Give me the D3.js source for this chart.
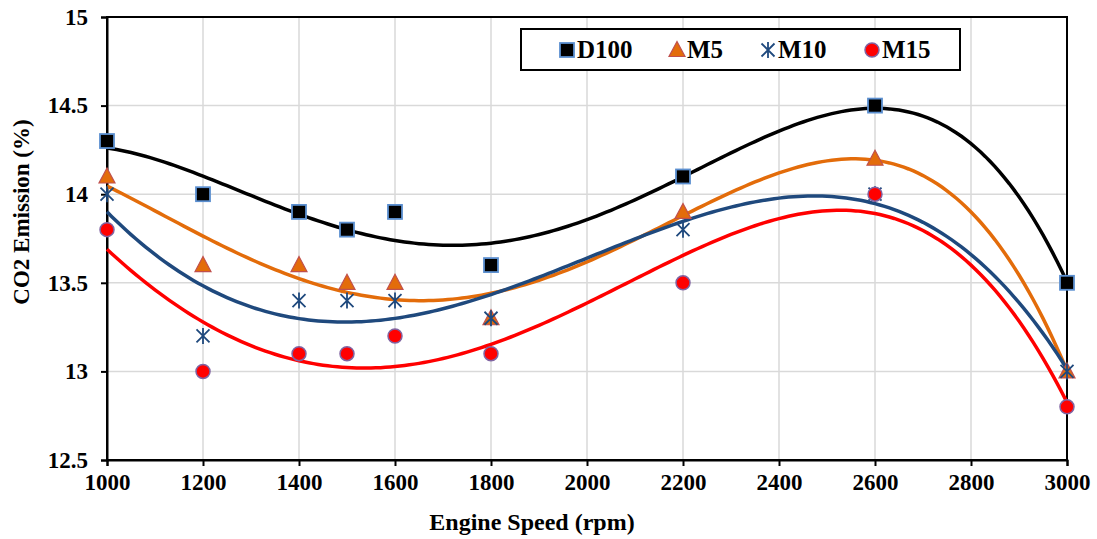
<!DOCTYPE html>
<meta charset="utf-8">
<style>
  body { margin: 0; background: #fff; }
  text { font-family: "Liberation Serif", "Times New Roman", serif; font-weight: bold; }
</style>
<svg width="1097" height="539"></svg>
<script src="https://d3js.org/d3.v7.min.js"></script>
<script>

var speeds = [1000, 1200, 1400, 1500, 1600, 1800, 2200, 2600, 3000];
var d100 = [14.3, 14.0, 13.9, 13.8, 13.9, 13.6, 14.1, 14.5, 13.5];
var m5   = [14.1, 13.6, 13.6, 13.5, 13.5, 13.3, 13.9, 14.2, 13.0];
var m10  = [14.0, 13.2, 13.4, 13.4, 13.4, 13.3, 13.8, 14.0, 13.0];
var m15  = [13.8, 13.0, 13.1, 13.1, 13.2, 13.1, 13.5, 14.0, 12.8];
var xTicks = [1000, 1200, 1400, 1600, 1800, 2000, 2200, 2400, 2600, 2800, 3000];
var yTicks = [12.5, 13, 13.5, 14, 14.5, 15];

var series = [
  {name: "D100", values: d100, line: "#000000", shape: "square"},
  {name: "M5",   values: m5,   line: "#e36c0a", shape: "triangle"},
  {name: "M10",  values: m10,  line: "#1f497d", shape: "star"},
  {name: "M15",  values: m15,  line: "#ff0000", shape: "circle"}
];

var svg = d3.select("svg"),
    margin = {top: 17, right: 30, bottom: 79, left: 107},
    width = 1097 - margin.left - margin.right,
    height = 539 - margin.top - margin.bottom;

var x = d3.scaleLinear().domain([1000, 3000]).range([0, width]);
var y = d3.scaleLinear().domain([12.5, 15]).range([height, 0]);

var g = svg.append("g").attr("transform", "translate(" + margin.left + "," + margin.top + ")");

// grid
g.selectAll(".vgrid").data(xTicks).enter().append("line")
  .attr("x1", d => x(d)).attr("x2", d => x(d))
  .attr("y1", 0).attr("y2", height)
  .attr("stroke", "#d9d9d9").attr("stroke-width", 1.5);
g.selectAll(".hgrid").data(yTicks).enter().append("line")
  .attr("x1", 0).attr("x2", width)
  .attr("y1", d => y(d)).attr("y2", d => y(d))
  .attr("stroke", "#d9d9d9").attr("stroke-width", 1.5);

// box
g.append("rect").attr("width", width).attr("height", height)
  .attr("fill", "none").attr("stroke", "#000").attr("stroke-width", 2);

// axes
var xAxis = g.append("g").attr("transform", "translate(0," + height + ")")
  .call(d3.axisBottom(x).tickValues(xTicks).tickFormat(d3.format("d")).tickSize(6).tickPadding(8));
var yAxis = g.append("g")
  .call(d3.axisLeft(y).tickValues(yTicks).tickFormat(d => d).tickSize(6).tickPadding(13));
[xAxis, yAxis].forEach(function(a) {
  a.select(".domain").attr("stroke", "#000").attr("stroke-width", 2);
  a.selectAll(".tick line").attr("stroke", "#000").attr("stroke-width", 2);
  a.selectAll("text").attr("font-size", 23).attr("fill", "#000")
    .style("font-family", "Liberation Serif").style("font-weight", "bold");
});

// polynomial least squares fit (order 4 trendline)
function polyfit(xs, ys, order) {
  var n = order + 1;
  var A = [], b = [];
  for (var i = 0; i < n; i++) {
    A.push(new Array(n).fill(0)); b.push(0);
  }
  xs.forEach(function(xv, k) {
    var t = (xv - 2000) / 1000;
    for (var i = 0; i < n; i++) {
      b[i] += ys[k] * Math.pow(t, i);
      for (var j = 0; j < n; j++) A[i][j] += Math.pow(t, i + j);
    }
  });
  for (var c = 0; c < n; c++) {
    var p = c;
    for (var r = c + 1; r < n; r++) if (Math.abs(A[r][c]) > Math.abs(A[p][c])) p = r;
    [A[c], A[p]] = [A[p], A[c]]; [b[c], b[p]] = [b[p], b[c]];
    for (var r2 = c + 1; r2 < n; r2++) {
      var f = A[r2][c] / A[c][c];
      for (var j2 = c; j2 < n; j2++) A[r2][j2] -= f * A[c][j2];
      b[r2] -= f * b[c];
    }
  }
  var coef = new Array(n).fill(0);
  for (var i2 = n - 1; i2 >= 0; i2--) {
    var s = b[i2];
    for (var j3 = i2 + 1; j3 < n; j3++) s -= A[i2][j3] * coef[j3];
    coef[i2] = s / A[i2][i2];
  }
  return function(xv) {
    var t = (xv - 2000) / 1000, v = 0;
    for (var i = 0; i < n; i++) v += coef[i] * Math.pow(t, i);
    return v;
  };
}

var line = d3.line().x(d => x(d[0])).y(d => y(d[1]));
var xs = d3.range(1000, 3001, 10);

series.forEach(function(s) {
  var f = polyfit(speeds, s.values, 4);
  g.append("path").datum(xs.map(v => [v, f(v)]))
    .attr("d", line).attr("fill", "none")
    .attr("stroke", s.line).attr("stroke-width", 3.5);
});

function drawMarker(sel, shape) {
  if (shape === "square") {
    sel.append("rect").attr("x", -7).attr("y", -7).attr("width", 14).attr("height", 14)
      .attr("fill", "#000").attr("stroke", "#5b8fd0").attr("stroke-width", 1.8);
  } else if (shape === "triangle") {
    sel.append("path").attr("d", "M0,-8.5L8,6.5L-8,6.5Z")
      .attr("fill", "#e36c0a").attr("stroke", "#c0504d").attr("stroke-width", 1.2);
  } else if (shape === "star") {
    sel.append("path").attr("d", "M-6.5,-6.5L6.5,6.5M-6.5,6.5L6.5,-6.5M0,-8L0,8")
      .attr("stroke", "#1f497d").attr("stroke-width", 1.8).attr("fill", "none");
  } else {
    sel.append("circle").attr("r", 7)
      .attr("fill", "#ff0000").attr("stroke", "#8064a2").attr("stroke-width", 1.5);
  }
}

series.forEach(function(s) {
  speeds.forEach(function(sp, i) {
    var m = g.append("g").attr("transform", "translate(" + x(sp) + "," + y(s.values[i]) + ")");
    drawMarker(m, s.shape);
  });
});

// legend
var lg = svg.append("g").attr("transform", "translate(521,29)");
lg.append("rect").attr("width", 439).attr("height", 41)
  .attr("fill", "#fff").attr("stroke", "#000").attr("stroke-width", 2);
var lx = [46, 156, 247, 351];
series.forEach(function(s, i) {
  var m = lg.append("g").attr("transform", "translate(" + lx[i] + ",21)");
  drawMarker(m, s.shape);
  lg.append("text").attr("x", lx[i] + 10).attr("y", 29)
    .attr("font-size", 25).text(s.name);
});

// titles
svg.append("text").attr("x", 532).attr("y", 530)
  .attr("text-anchor", "middle").attr("font-size", 24).text("Engine Speed (rpm)");
svg.append("text").attr("transform", "translate(29,212) rotate(-90)")
  .attr("text-anchor", "middle").attr("font-size", 23).text("CO2 Emission (%)");

</script>
